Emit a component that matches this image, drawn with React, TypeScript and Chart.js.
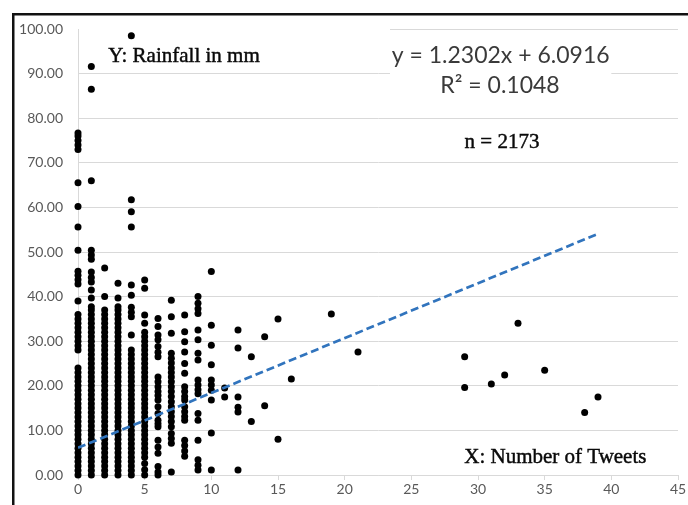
import React, { useEffect, useRef } from "react";
import { Chart, registerables } from "chart.js";

Chart.register(...registerables);

// Rainfall (mm) readings for each tweet count
const rainAt0 = [0, 1, 2, 3, 4, 5, 6, 7, 8, 9, 10, 11, 12, 13, 14, 15, 16, 17, 18, 19, 20, 21, 22, 23, 24, 28, 29, 30, 31, 32, 33, 34, 35, 36, 39, 42.8, 43.8, 44.8, 45.7, 50.4, 55.6, 60.2, 65.5, 73, 74, 75, 76, 76.7];
const rainAt1 = [0, 1, 2, 3, 4, 5, 6, 7, 8, 9, 10, 11, 12, 13, 14, 15, 16, 17, 18, 19, 20, 21, 22, 23, 24, 25, 26, 27, 28, 29, 30, 31, 32, 33, 34, 35, 36, 37, 37.7, 39.7, 41.5, 43.3, 44.3, 45.5, 48.4, 49.3, 50.4, 66, 86.5, 91.6];
const rainAt2 = [0, 1, 2, 3, 4, 5, 6, 7, 8, 9, 10, 11, 12, 13, 14, 15, 16, 17, 18, 19, 20, 21, 22, 23, 24, 25, 26, 27, 28, 29, 30, 31, 32, 33, 34, 35, 36, 37, 40, 46.4];
const rainAt3 = [0, 1, 2, 3, 4, 5, 6, 7, 8, 9, 10, 11, 12, 13, 14, 15, 16, 17, 18, 19, 20, 21, 22, 23, 24, 25, 26, 27, 28, 29, 30, 31, 32, 33, 34, 35, 36, 37, 37.7, 39.7, 43];
const rainAt4 = [0, 1, 2, 3, 4, 5, 6, 7, 8, 9, 10, 11, 12, 13, 14, 15, 16, 17, 18, 19, 20, 21, 22, 23, 24, 25, 26, 27, 28, 31.4, 35.5, 36.5, 37.6, 40.3, 42.6, 55.6, 59, 61.7, 98.5];
const rainAt5 = [0, 1.2, 2.6, 4, 5, 6, 7, 8, 9, 10, 11, 12, 13, 14, 15, 16, 17, 18, 19, 20, 21, 22, 23, 24, 25, 26, 27, 28, 29, 30, 31, 32, 34, 35.9, 41.9, 43.7];
const rainAt6 = [0, 0.7, 1.9, 4.9, 6.3, 7.8, 10.8, 11.5, 12.3, 13.8, 15.3, 16.8, 17.8, 18.7, 19.8, 20.9, 22, 26.5, 27.5, 28.8, 30.3, 31.4, 33.3, 35.1];
const rainAt7 = [0.7, 7.1, 8.2, 9.3, 10.8, 12, 13.1, 14.2, 15.3, 16.4, 17.6, 18.7, 19.8, 20.9, 22, 23, 24, 25.1, 26.2, 27.3, 31.8, 35.5, 39.2];
const rainAt8 = [4.2, 5.4, 6.6, 7.8, 12.3, 13.1, 14.2, 15.3, 16.8, 17.6, 18.7, 19.8, 22.8, 25, 27.6, 29.9, 32.1, 35.9];
const rainAt9 = [1.1, 2.2, 3.4, 7.8, 12.3, 13.8, 18.2, 19.1, 20.2, 21.3, 25.8, 27.3, 30.3, 32.5, 36.2, 37.3, 38.5, 40];
const rainAt10 = [1.1, 9.4, 16.8, 19, 20.2, 21.3, 24.7, 29.1, 33.6, 45.6];
const rainAt11 = [17.5, 19.5];
const rainAt12 = [1.1, 14.1, 15.2, 17.5, 28.5, 32.5];
const rainAt13 = [12, 26.5];
const rainAt14 = [15.5, 31];
const rainAt15 = [8, 35];
const rainAt16 = [21.5];
const rainAt19 = [36.1];
const rainAt21 = [27.6];
const rainAt29 = [19.6, 26.5];
const rainAt31 = [20.4];
const rainAt32 = [22.4];
const rainAt33 = [34];
const rainAt35 = [23.5];
const rainAt38 = [14];
const rainAt39 = [17.5];

const tweetCounts = [0, 1, 2, 3, 4, 5, 6, 7, 8, 9, 10, 11, 12, 13, 14, 15, 16, 19, 21, 29, 31, 32, 33, 35, 38, 39];
const rainColumns = [rainAt0, rainAt1, rainAt2, rainAt3, rainAt4, rainAt5, rainAt6, rainAt7, rainAt8, rainAt9, rainAt10, rainAt11, rainAt12, rainAt13, rainAt14, rainAt15, rainAt16, rainAt19, rainAt21, rainAt29, rainAt31, rainAt32, rainAt33, rainAt35, rainAt38, rainAt39];

// Linear trend from the chart's equation
const trendSlope = 1.2302;
const trendIntercept = 6.0916;
const trendStartX = 0;
const trendEndX = 39;

const xTickStep = 5;
const yTickStep = 10;

const annotationTexts = {
  yLabel: "Y: Rainfall in mm",
  equation: "y = 1.2302x + 6.0916",
  r2: "R² = 0.1048",
  n: "n = 2173",
  xLabel: "X: Number of Tweets",
};

export default function App() {
  const canvasRef = useRef<HTMLCanvasElement | null>(null);

  useEffect(() => {
    const canvas = canvasRef.current;
    if (!canvas) return;

    const points: { x: number; y: number }[] = [];
    tweetCounts.forEach((cnt, i) => {
      rainColumns[i].forEach((r) => points.push({ x: cnt, y: r }));
    });

    const trend = [
      { x: trendStartX, y: trendSlope * trendStartX + trendIntercept },
      { x: trendEndX, y: trendSlope * trendEndX + trendIntercept },
    ];

    const framePlugin = {
      id: "frame",
      beforeDraw(chart: any) {
        const ctx = chart.ctx;
        ctx.save();
        ctx.fillStyle = "#ffffff";
        ctx.fillRect(0, 0, chart.width, chart.height);
        ctx.fillStyle = "#111111";
        ctx.fillRect(12, 13, 2.5, chart.height);
        ctx.fillRect(12, 13, chart.width, 2.5);
        ctx.restore();
      },
      beforeDatasetsDraw(chart: any) {
        const ctx = chart.ctx;
        const xs = chart.scales.x;
        const ys = chart.scales.y;
        ctx.save();
        ctx.fillStyle = "#ffffff";
        const l1 = chart.chartArea.left + 1;
        const r1 = xs.getPixelForValue(23.4);
        ctx.fillRect(l1, ys.getPixelForValue(101), r1 - l1, ys.getPixelForValue(91.5) - ys.getPixelForValue(101));
        const l2 = r1;
        const r2 = xs.getPixelForValue(40);
        ctx.fillRect(l2, ys.getPixelForValue(98.5), r2 - l2, ys.getPixelForValue(84) - ys.getPixelForValue(98.5));
        ctx.restore();
      },
      afterDatasetsDraw(chart: any) {
        const ctx = chart.ctx;
        const xs = chart.scales.x;
        const ys = chart.scales.y;
        ctx.save();
        ctx.textAlign = "center";
        ctx.textBaseline = "alphabetic";
        ctx.fillStyle = "#0a0a0a";
        ctx.strokeStyle = "#0a0a0a";
        ctx.lineWidth = 0.45;
        ctx.font = "21px 'Liberation Serif', 'DejaVu Serif', serif";
        const serif: [string, number, number][] = [
          [annotationTexts.yLabel, 7.95, 92.7],
          [annotationTexts.n, 31.8, 73.4],
          [annotationTexts.xLabel, 35.8, 2.6],
        ];
        serif.forEach(([t, x, y]) => {
          ctx.fillText(t, xs.getPixelForValue(x), ys.getPixelForValue(y));
          ctx.strokeText(t, xs.getPixelForValue(x), ys.getPixelForValue(y));
        });
        ctx.fillStyle = "#3a3a3a";
        ctx.font = "23px Lato, 'Open Sans', sans-serif";
        ctx.fillText(annotationTexts.equation, xs.getPixelForValue(31.7), ys.getPixelForValue(92.3));
        ctx.fillText(annotationTexts.r2, xs.getPixelForValue(31.65), ys.getPixelForValue(85.6));
        ctx.restore();
      },
    };

    const chart = new Chart(canvas, {
      type: "scatter",
      data: {
        datasets: [
          {
            type: "scatter",
            label: "Rainfall",
            data: points,
            pointRadius: 3.5,
            pointBackgroundColor: "#000000",
            pointBorderWidth: 0,
            pointHoverRadius: 3.5,
            clip: false,
            order: 2,
          } as any,
          {
            type: "line",
            label: "Linear trend",
            data: trend,
            borderColor: "#3174bd",
            borderWidth: 2.7,
            borderDash: [8, 4],
            pointRadius: 0,
            fill: false,
            order: 1,
          } as any,
        ],
      },
      options: {
        animation: false,
        responsive: true,
        maintainAspectRatio: false,
        layout: { padding: { top: 29, right: 10, left: 0, bottom: 0 } },
        plugins: {
          legend: { display: false },
          tooltip: { enabled: false },
        },
        scales: {
          x: {
            type: "linear",
            min: 0,
            max: 45,
            afterFit: (s: any) => {
              s.height = 30;
            },
            ticks: {
              stepSize: xTickStep,
              color: "#595959",
              font: { family: "Lato, 'Open Sans', sans-serif", size: 14 },
              padding: 1,
              maxRotation: 0,
            },
            grid: {
              display: true,
              drawOnChartArea: false,
              drawTicks: true,
              tickLength: 5,
              color: "#d9d9d9",
            },
            border: { display: true, color: "#d9d9d9", width: 1 },
          },
          y: {
            type: "linear",
            min: 0,
            max: 100,
            afterFit: (s: any) => {
              s.width = 78;
            },
            ticks: {
              stepSize: yTickStep,
              color: "#595959",
              font: { family: "Lato, 'Open Sans', sans-serif", size: 14 },
              padding: 15,
              callback: (v: any) => Number(v).toFixed(2),
            },
            grid: {
              color: "#d9d9d9",
              lineWidth: 1,
              drawTicks: false,
            },
            border: { display: true, color: "#d9d9d9", width: 1 },
          },
        },
      },
      plugins: [framePlugin],
    });

    return () => {
      chart.destroy();
    };
  }, []);

  return (
    <div style={{ position: "absolute", left: 0, top: 0, width: 688, height: 505, overflow: "hidden", background: "#fff" }}>
      <canvas ref={canvasRef} />
    </div>
  );
}
